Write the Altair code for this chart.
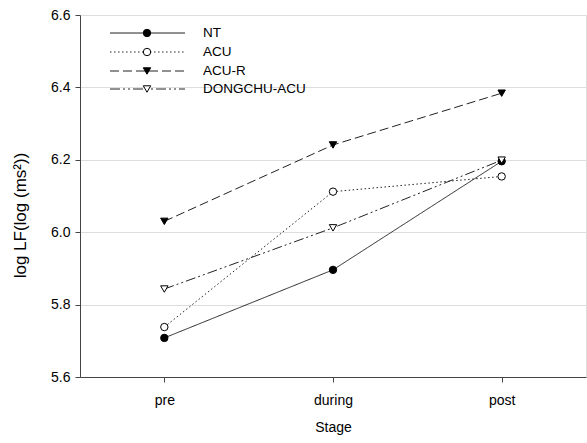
import altair as alt
import pandas as pd

stages = ["pre", "during", "post"]
series = ["NT", "ACU", "ACU-R", "DONGCHU-ACU"]
nt = [5.708, 5.896, 6.196]
acu = [5.738, 6.112, 6.154]
acur = [6.030, 6.241, 6.384]
dongchu = [5.843, 6.012, 6.199]

rows = []
for name, vals in zip(series, [nt, acu, acur, dongchu]):
    for s, v in zip(stages, vals):
        rows.append({"Stage": s, "value": v, "series": name})
df = pd.DataFrame(rows)

dashes = {"NT": [1, 0], "ACU": [1.5, 2.5], "ACU-R": [9, 4], "DONGCHU-ACU": [10, 3, 2, 3, 2, 3]}
shapes = {"NT": "circle", "ACU": "circle", "ACU-R": "triangle-down", "DONGCHU-ACU": "triangle-down"}
fills = {"NT": "black", "ACU": "white", "ACU-R": "black", "DONGCHU-ACU": "white"}
legend_y = {"NT": 18, "ACU": 37, "ACU-R": 56, "DONGCHU-ACU": 74}

FONT = "Liberation Sans"
x = alt.X("Stage:N", sort=stages,
          scale=alt.Scale(type="point", padding=0.5),
          axis=alt.Axis(title="Stage", labelAngle=0, labelFontSize=14, labelFontWeight="normal",
                        labelPadding=11, titleFontSize=14, titleFontWeight="normal", titlePadding=13,
                        tickSize=5, domainColor="#444", tickColor="#444", labelColor="black",
                        labelFont=FONT, titleFont=FONT, titleColor="black"))
y = alt.Y("value:Q", scale=alt.Scale(domain=[5.6, 6.6], nice=False, zero=False),
          axis=alt.Axis(title="log LF(log (ms²))", values=[5.6, 5.8, 6.0, 6.2, 6.4, 6.6], format=".1f",
                        labelFontSize=14, labelFontWeight="normal", labelPadding=5, tickSize=5,
                        titleFontSize=17, titleFontWeight="normal",
                        titleX=-60, titleY=200, titleAngle=270, titleAlign="center", titleBaseline="middle",
                        domainColor="#444", tickColor="#444", labelColor="black",
                        labelFont=FONT, titleFont=FONT, titleColor="black"))

layers = []
for name in series:
    sub = df[df.series == name]
    base = alt.Chart(sub)
    layers.append(base.mark_line(color="#222", strokeWidth=1, strokeDash=dashes[name]).encode(x=x, y=y))
for name in series:
    sub = df[df.series == name]
    base = alt.Chart(sub)
    layers.append(base.mark_point(shape=shapes[name], filled=True, fill=fills[name], stroke="black",
                                  strokeWidth=1, size=55, opacity=1).encode(x=x, y=y))
# legend
for name in series:
    ly = legend_y[name]
    leg = alt.Chart(pd.DataFrame({"series": [name]}))
    layers.append(leg.mark_rule(color="#222", strokeWidth=1, strokeDash=dashes[name]).encode(
        x=alt.value(30), x2=alt.value(105), y=alt.value(ly)))
    layers.append(leg.mark_point(shape=shapes[name], filled=True, fill=fills[name], stroke="black",
                                 strokeWidth=1, size=55, opacity=1).encode(x=alt.value(67), y=alt.value(ly)))
    layers.append(leg.mark_text(align="left", baseline="middle", font=FONT, fontSize=13.5, color="black").encode(
        x=alt.value(123), y=alt.value(ly), text="series:N"))

chart = alt.layer(*layers).properties(
    width=506, height=362,
    autosize=alt.AutoSizeParams(type="none"),
    padding={"left": 80, "top": 15, "right": 1, "bottom": 66},
).configure_view(stroke=None).configure(background="white")

chart.save("out.html", embed_options={"renderer": "svg", "actions": False})
